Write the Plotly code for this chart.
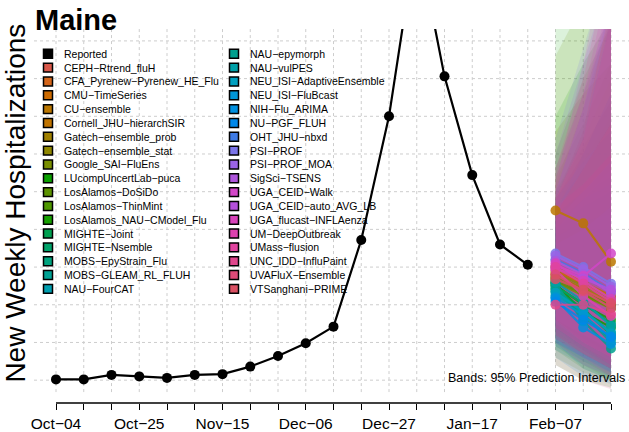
import plotly.graph_objects as go

# ---- data ----
reported_dates = ["2025-10-04", "2025-10-11", "2025-10-18", "2025-10-25", "2025-11-01",
                  "2025-11-08", "2025-11-15", "2025-11-22", "2025-11-29", "2025-12-06",
                  "2025-12-13", "2025-12-20", "2025-12-27", "2026-01-03", "2026-01-10",
                  "2026-01-17", "2026-01-24", "2026-01-31"]
reported = [1, 1, 7, 5, 3, 7, 8, 18, 32, 49, 71, 186, 350, 590, 403, 272, 180, 153]

forecast_dates = ["2026-02-07", "2026-02-14", "2026-02-21"]

models = ["CEPH−Rtrend_fluH", "CFA_Pyrenew−Pyrenew_HE_Flu", "CMU−TimeSeries", "CU−ensemble",
          "Cornell_JHU−hierarchSIR", "Gatech−ensemble_prob", "Gatech−ensemble_stat",
          "Google_SAI−FluEns", "LUcompUncertLab−puca", "LosAlamos−DoSiDo", "LosAlamos−ThinMint",
          "LosAlamos_NAU−CModel_Flu", "MIGHTE−Joint", "MIGHTE−Nsemble", "MOBS−EpyStrain_Flu",
          "MOBS−GLEAM_RL_FLUH", "NAU−FourCAT", "NAU−epymorph", "NAU−vulPES",
          "NEU_ISI−AdaptiveEnsemble", "NEU_ISI−FluBcast", "NIH−Flu_ARIMA", "NU−PGF_FLUH",
          "OHT_JHU−nbxd", "PSI−PROF", "PSI−PROF_MOA", "SigSci−TSENS", "UGA_CEID−Walk",
          "UGA_CEID−auto_AVG_LB", "UGA_flucast−INFLAenza", "UM−DeepOutbreak", "UMass−flusion",
          "UNC_IDD−InfluPaint", "UVAFluX−Ensemble", "VTSanghani−PRIME"]

model_colors = ["#D9584A", "#D4651A", "#CC6A00", "#BB7700", "#C07400", "#A08000", "#8F8700",
                "#7A8F00", "#0AA000", "#5C9300", "#4E9800", "#16A000", "#00A050", "#00A36A",
                "#00A37E", "#00A294", "#009FB0", "#00A08E", "#00A0A8", "#00A0C0", "#0095D5",
                "#0090E0", "#0088EA", "#3F7BE5", "#7B74E8", "#9A63E6", "#AE55DC", "#D246C8",
                "#B550DC", "#D843BB", "#DE42B0", "#E0439E", "#E0468C", "#DE4A78", "#DA5063"]

median = [[135, 118, 100], [140, 120, 98], [145, 128, 110], [225, 208, 157], [150, 130, 112],
          [138, 122, 104], [142, 125, 108], [130, 112, 95], [128, 90, 70], [132, 115, 96],
          [136, 118, 99], [126, 100, 80], [120, 95, 60], [124, 102, 75], [118, 85, 55],
          [122, 88, 50], [112, 92, 64], [128, 78, 42], [130, 105, 72], [116, 92, 62],
          [110, 86, 56], [108, 70, 48], [104, 80, 58], [160, 142, 118], [168, 150, 128],
          [165, 147, 124], [158, 140, 115], [152, 138, 168], [148, 135, 120], [155, 132, 108],
          [146, 112, 85], [150, 128, 104], [100, 100, 88], [140, 118, 96], [134, 120, 102]]

upper = [[260, 360, 480], [240, 300, 380], [230, 290, 350], [330, 380, 420], [250, 310, 370],
         [270, 340, 420], [250, 320, 400], [430, 500, 560], [520, 600, 680], [280, 380, 480],
         [300, 400, 470], [350, 420, 480], [210, 240, 260], [220, 250, 270], [200, 230, 250],
         [190, 210, 220], [220, 300, 380], [230, 280, 340], [240, 290, 330], [210, 250, 290],
         [200, 240, 280], [240, 330, 480], [180, 200, 230], [250, 360, 500], [320, 440, 560],
         [300, 420, 540], [280, 380, 500], [260, 420, 600], [250, 360, 520], [270, 380, 540],
         [230, 260, 300], [240, 320, 480], [280, 400, 560], [220, 280, 340], [240, 330, 500]]

lower = [[60, 40, 20], [70, 50, 30], [80, 55, 35], [130, 90, 40], [75, 50, 25],
         [60, 35, 15], [65, 40, 20], [30, 10, 0], [20, 0, -10], [50, 25, 5],
         [45, 20, 0], [40, 15, 0], [60, 35, 15], [65, 40, 20], [70, 40, 15],
         [75, 45, 20], [40, 20, 5], [50, 15, 0], [55, 30, 10], [50, 30, 10],
         [45, 25, 10], [30, 5, -5], [50, 30, 15], [80, 60, 40], [70, 45, 25],
         [75, 50, 30], [65, 40, 20], [50, 20, 5], [60, 35, 15], [55, 30, 5],
         [80, 50, 30], [70, 45, 20], [20, 0, -12], [60, 35, 15], [55, 35, 15]]

week_ticks = ["2025-10-04", "2025-10-11", "2025-10-18", "2025-10-25", "2025-11-01",
              "2025-11-08", "2025-11-15", "2025-11-22", "2025-11-29", "2025-12-06",
              "2025-12-13", "2025-12-20", "2025-12-27", "2026-01-03", "2026-01-10",
              "2026-01-17", "2026-01-24", "2026-01-31", "2026-02-07", "2026-02-14",
              "2026-02-21"]
tick_labels = ["Oct−04", "", "", "Oct−25", "", "", "Nov−15", "", "", "Dec−06", "", "",
               "Dec−27", "", "", "Jan−17", "", "", "Feb−07", "", ""]
y_grid = [0, 50, 100, 150, 200, 250, 300, 350, 400, 450]

# ---- geometry ----
W, H = 629, 432
L, R, T, B = 34, 0, 29, 26
PW, PH = W - L - R, H - T - B
FONT = "Liberation Sans, Arial, Helvetica, sans-serif"
Y_LO, Y_HI = -30.3, 465.8
Y_CLIP_LO = -15.8
GRID = "#CDCDCD"


def px(x):
    return (x - L) / PW


def py(y):
    return (H - B - y) / PH


def rgba(hexcol, a):
    h = hexcol.lstrip("#")
    return "rgba(%d,%d,%d,%s)" % (int(h[0:2], 16), int(h[2:4], 16), int(h[4:6], 16), a)


fig = go.Figure()

# prediction bands
for name, col, up, lo in zip(models, model_colors, upper, lower):
    fig.add_trace(go.Scatter(
        x=forecast_dates + forecast_dates[::-1],
        y=up + lo[::-1],
        fill="toself", fillcolor=rgba(col, 0.14),
        line=dict(width=0), mode="lines",
        hoverinfo="skip", showlegend=False))

# forecast medians
for name, col, med in zip(models, model_colors, median):
    fig.add_trace(go.Scatter(
        x=forecast_dates, y=med, mode="lines+markers", name=name,
        line=dict(color=col, width=2.2),
        marker=dict(color=col, size=10),
        opacity=0.85, showlegend=False))

# reported
fig.add_trace(go.Scatter(
    x=reported_dates, y=reported, mode="lines+markers", name="Reported",
    line=dict(color="black", width=2.2),
    marker=dict(color="black", size=10),
    showlegend=False))

shapes = []
# grid lines
for v in y_grid:
    shapes.append(dict(type="line", xref="paper", yref="y", x0=0, x1=1, y0=v, y1=v,
                       line=dict(color=GRID, width=1, dash="dot"), layer="below"))
for d in week_ticks:
    shapes.append(dict(type="line", xref="x", yref="y", x0=d, x1=d, y0=Y_CLIP_LO, y1=Y_HI,
                       line=dict(color=GRID, width=1, dash="dot"), layer="below"))
# x axis line
shapes.append(dict(type="line", xref="x", yref="paper", x0=week_ticks[0], x1=week_ticks[-1],
                   y0=0, y1=0, line=dict(color="black", width=1.5)))

annotations = []
# legend (two columns)
legend_names = ["Reported"] + models
legend_colors = ["#000000"] + model_colors
per_col = 18
for idx, (nm, col) in enumerate(zip(legend_names, legend_colors)):
    c, r = divmod(idx, per_col)
    bx = 48 if c == 0 else 234
    tx = 62 if c == 0 else 248
    cy = 54 + 13.94 * r
    shapes.append(dict(type="rect", xref="paper", yref="paper",
                       x0=px(bx - 4.5), x1=px(bx + 4.5), y0=py(cy + 4.5), y1=py(cy - 4.5),
                       fillcolor=col, line=dict(color="black", width=1.5)))
    annotations.append(dict(xref="paper", yref="paper", x=px(tx), y=py(cy), text=nm,
                            showarrow=False, xanchor="left", yanchor="middle",
                            font=dict(family=FONT, size=10.5, color="black")))

annotations.append(dict(xref="paper", yref="paper", x=px(33), y=py(20), text="<b>Maine</b>",
                        showarrow=False, xanchor="left", yanchor="middle",
                        font=dict(family=FONT, size=29, color="black")))
annotations.append(dict(xref="paper", yref="paper", x=px(16), y=py(205),
                        text="New Weekly Hospitalizations", textangle=-90,
                        showarrow=False, xanchor="center", yanchor="middle",
                        font=dict(family=FONT, size=28, color="black")))
annotations.append(dict(xref="paper", yref="paper", x=px(627), y=py(381),
                        text="Bands: 95% Prediction Intervals",
                        showarrow=False, xanchor="right", yanchor="middle",
                        font=dict(family=FONT, size=12.5, color="black")))

fig.update_layout(
    width=W, height=H, autosize=False,
    margin=dict(l=L, r=R, t=T, b=B, pad=0),
    paper_bgcolor="white", plot_bgcolor="white",
    showlegend=False,
    shapes=shapes, annotations=annotations,
    xaxis=dict(type="date", range=["2025-09-28 10:48", "2026-02-25 13:00"],
               tickvals=week_ticks, ticktext=tick_labels,
               ticks="outside", ticklen=6, tickwidth=1.3, tickcolor="black",
               showgrid=False, zeroline=False, showline=False,
               tickfont=dict(family=FONT, size=15.5, color="black")),
    yaxis=dict(range=[Y_LO, Y_HI], showgrid=False, zeroline=False, showline=False,
               showticklabels=False, ticks=""),
)

# drop the default page margin so the figure sits at the window's corner
fig.write_html("out.html", config={"displayModeBar": False},
               post_script="document.body.style.margin='0';")
